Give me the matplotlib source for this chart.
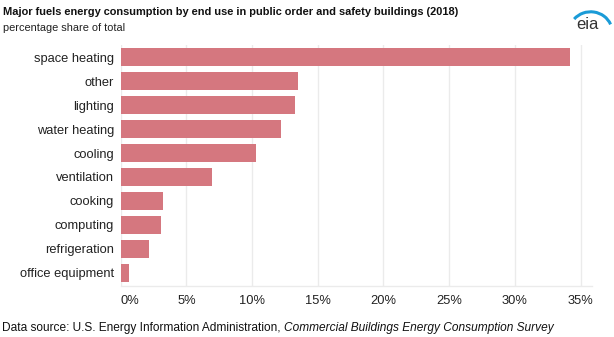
import matplotlib
matplotlib.use("Agg")
import matplotlib.pyplot as plt
from matplotlib.ticker import FuncFormatter
from matplotlib.patches import Arc

categories = ["space heating", "other", "lighting", "water heating", "cooling",
              "ventilation", "cooking", "computing", "refrigeration", "office equipment"]
values = [34.2, 13.5, 13.3, 12.2, 10.3, 6.95, 3.2, 3.07, 2.15, 0.63]
xticks = [0, 5, 10, 15, 20, 25, 30, 35]

plt.rcParams['font.family'] = ['Liberation Sans', 'DejaVu Sans']

fig = plt.figure(figsize=(6.14, 3.37), dpi=100)
ax = fig.add_axes([0.1966, 0.1522, 0.7671, 0.7143])

ypos = list(range(len(categories)))
ax.barh(ypos, values, height=0.74, color="#d5777f", zorder=3)
ax.set_ylim(len(categories) - 0.46, -0.51)
ax.set_xlim(0, 35.85)
ax.set_yticks(ypos)
ax.set_yticklabels(categories, fontsize=9.3, color="#222222")
ax.set_xticks(xticks)
ax.xaxis.set_major_formatter(FuncFormatter(lambda v, p: f"{v:.0f}%"))
ax.tick_params(axis='x', labelsize=9.3, colors="#222222", length=0, pad=7)
ax.tick_params(axis='y', length=0, pad=5)
ax.xaxis.get_majorticklabels()[0].set_horizontalalignment("left")
ax.grid(axis='x', color="#ebebeb", linewidth=1, zorder=0)
for s in ["top", "right", "left"]:
    ax.spines[s].set_visible(False)
ax.spines["bottom"].set_color("#ebebeb")
ax.spines["bottom"].set_linewidth(1)

fig.text(0.005, 0.955, "Major fuels energy consumption by end use in public order and safety buildings (2018)",
         fontsize=7.9, fontweight="bold", color="#111111", va="baseline")
fig.text(0.005, 0.907, "percentage share of total", fontsize=7.9,
         color="#222222", va="baseline")
t = fig.text(0.003, 0.018, "Data source: U.S. Energy Information Administration, ", fontsize=8.55,
             color="#111111", va="baseline")
fig.canvas.draw()
bb = t.get_window_extent()
fig.text(bb.x1 / fig.bbox.width, 0.018, "Commercial Buildings Energy Consumption Survey",
         fontsize=8.55, style="italic", color="#111111", va="baseline")

# eia logo
fig.text(0.956, 0.915, "eia", fontsize=12, color="#333333", ha="center", va="baseline")
arc = Arc((0.962, 0.905), 0.07, 0.12, theta1=35, theta2=125, transform=fig.transFigure,
          color="#1a9bd7", linewidth=2.2)
fig.add_artist(arc)

fig.savefig("out.png", dpi=100)
